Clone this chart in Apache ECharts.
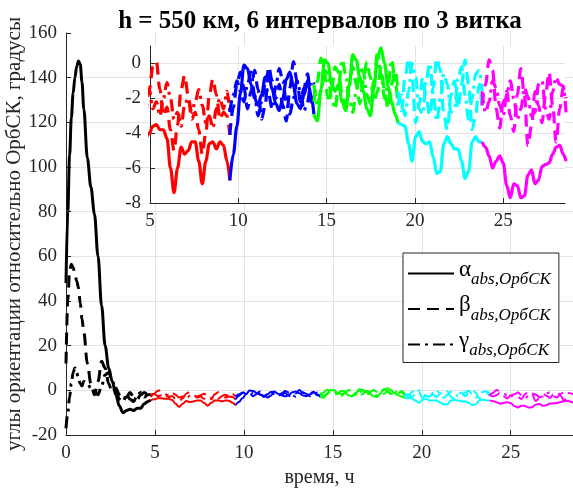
<!DOCTYPE html>
<html>
<head>
<meta charset="utf-8">
<script src="https://cdn.jsdelivr.net/npm/echarts@6/dist/echarts.min.js"></script>
<style>
  html, body { margin: 0; padding: 0; background: #fff; }
  #chart { width: 573px; height: 492px; }
</style>
</head>
<body>
<div id="chart"></div>
<script>
// Attitude angles relative to the orbital frame (ОрбСК), degrees, vs time in hours.
// First the detumbling transient (black), then 6 control intervals of 3 orbits each.

const transientHours = [0, 0.1, 0.2, 0.3, 0.4, 0.5, 0.6, 0.7, 0.8, 0.9, 1.0, 1.2, 1.4, 1.6, 1.8, 2.0, 2.2, 2.4, 2.6, 2.8, 3.0, 3.2, 3.4, 3.6, 3.8, 4.0, 4.2, 4.4, 4.6, 4.76];
const alphaTransient = [48, 80, 105, 122, 133, 140, 145, 147.5, 146, 138, 126, 104, 91, 79, 60, 38, 20, 10, 4, -2, -7, -10, -9, -8.5, -9, -8, -8, -6, -5, -4.4];
const betaTransient  = [12, 40, 53, 56.5, 55, 52, 49, 46, 39, 32, 26, 12, 3, -2, 4, 13, 10, 3, -1, 1, -2, -4, -3, -1, -3, -4, -2, -1, -2, -3.0];
const gammaTransient = [-17, -10, -3, 3, 8, 10, 8, 5, 3, 2, 4, 3, 1, 0, -2, 2, 7, 8, 4, 0, -4, -5, -2, -4, -5, -2, -1, -3, -2, -1.8];

// Control intervals: start time (h), sample offsets inside an interval (h), line colours
const intervalStarts = [4.76, 9.52, 14.28, 19.04, 23.8];
const intervalOffsets = [0, 0.2, 0.4, 0.6, 0.8, 1.0, 1.2, 1.4, 1.6, 1.8, 2.0, 2.2, 2.4, 2.6, 2.8, 3.0, 3.2, 3.4, 3.6, 3.8, 4.0, 4.2, 4.4, 4.6, 4.76];
const intervalColors = ['#ff0000', '#0000ff', '#00ff00', '#00ffff', '#ff00ff'];

const alphaInterval1 = [-4.4, -4.0, -3.6, -3.5, -3.8, -3.8, -4.3, -6.0, -7.4, -6.0, -4.8, -5.2, -5.0, -4.5, -4.5, -5.6, -6.9, -5.6, -4.6, -4.5, -4.9, -4.5, -4.7, -5.6, -6.7];
const betaInterval1  = [-3.0, -1.5, -0.2, 0.1, -1.5, -3.0, -2.5, -3.8, -5.0, -3.5, -1.5, -0.7, -1.8, -3.2, -2.8, -3.8, -5.2, -4.0, -1.8, -0.9, -1.8, -3.2, -2.8, -3.0, -4.1];
const gammaInterval1 = [-1.8, -1.5, -2.6, -2.2, -3.0, -2.0, -1.1, -2.0, -3.2, -2.8, -3.6, -2.4, -2.0, -2.8, -2.2, -1.5, -2.4, -3.4, -3.0, -3.7, -2.6, -2.0, -2.6, -1.6, -2.8];

const alphaInterval2 = [-6.7, -5.2, -3.6, -1.7, -0.1, -0.3, -1.2, -2.0, -2.4, -1.8, -0.8, -0.6, -1.5, -2.3, -2.7, -2.0, -0.9, -0.5, -1.3, -2.3, -2.6, -1.8, -1.0, -1.8, -2.9];
const betaInterval2  = [-4.1, -2.5, -1.2, -0.5, -1.4, -2.6, -1.6, -0.4, -1.5, -3.2, -2.4, -0.2, -1.0, -2.0, -1.2, -2.4, -3.3, -1.4, 0.1, -1.0, -2.2, -1.4, -0.6, -2.2, -2.2];
const gammaInterval2 = [-2.8, -1.8, -1.0, -1.6, -2.2, -1.2, -0.5, -1.8, -3.0, -2.2, -1.2, -1.8, -2.6, -1.3, -0.3, -1.0, -2.2, -2.9, -2.0, -1.0, -1.6, -2.7, -2.2, -1.0, -1.2];

const alphaInterval3 = [-2.9, -3.3, -1.5, 0.2, 0.0, -1.2, -1.6, -1.2, -2.2, -2.7, -1.3, 0.5, 0.2, -0.8, -1.6, -2.6, -3.0, -1.4, 0.3, 0.9, 0.0, -1.3, -2.2, -2.9, -3.4];
const betaInterval3  = [-2.2, -1.0, 0.3, -0.6, -2.0, -1.5, -0.2, -0.5, -1.8, -2.4, -1.2, -0.2, -1.2, -2.3, -1.0, 0.1, -0.8, -2.2, -1.6, -0.3, -1.5, -2.6, -1.2, -0.4, -1.6];
const gammaInterval3 = [-1.2, -2.4, -1.6, -0.4, -0.6, -2.0, -2.6, -1.2, 0.2, -0.6, -2.0, -2.8, -1.6, -0.2, -0.5, -1.8, -2.3, -1.0, 0.6, -0.6, -2.0, -1.2, 0.2, -1.0, -2.4];

const alphaInterval4 = [-3.4, -3.5, -3.6, -4.6, -5.6, -4.2, -3.9, -4.5, -4.6, -4.5, -5.4, -6.3, -6.2, -4.6, -4.2, -4.6, -4.9, -4.9, -5.6, -6.6, -6.2, -4.5, -4.2, -4.5, -4.5];
const betaInterval4  = [-1.6, -2.7, -0.8, 0.3, -0.8, -3.4, -2.4, -0.8, -2.0, -3.0, -1.4, 0.3, -0.4, -3.0, -3.8, -1.8, -1.0, -2.6, -1.2, 0.2, -1.2, -3.8, -3.0, -1.2, -2.4];
const gammaInterval4 = [-2.4, -1.8, -3.0, -1.6, 0.0, -0.8, -2.6, -2.9, -1.0, 0.0, -1.8, -3.3, -2.0, -0.6, -1.2, -2.8, -2.6, -0.9, -0.2, -1.8, -3.2, -2.0, -0.6, -0.4, -1.6];

const alphaInterval5 = [-4.5, -4.8, -5.3, -6.0, -5.6, -5.3, -5.7, -7.0, -7.7, -6.9, -7.0, -7.7, -7.6, -6.4, -6.1, -6.9, -6.7, -5.9, -5.8, -5.7, -5.2, -4.8, -4.7, -5.2, -5.6];
const betaInterval5  = [-2.4, -1.2, 0.2, -0.4, -2.6, -3.7, -2.2, -1.6, -3.0, -3.9, -1.8, -0.3, -1.8, -4.7, -3.6, -1.6, -2.4, -3.4, -1.8, -0.5, -2.4, -4.5, -2.6, -1.4, -2.0];
const gammaInterval5 = [-1.6, -2.8, -2.2, -1.0, -1.4, -2.4, -3.0, -1.8, -1.0, -2.0, -3.2, -2.6, -1.4, -1.9, -3.0, -2.8, -1.2, -1.0, -2.6, -3.2, -1.6, -0.8, -1.2, -1.3, -2.8];

const mainXTicks = [0, 5, 10, 15, 20, 25];
const mainYTicks = [-20, 0, 20, 40, 60, 80, 100, 120, 140, 160];
const insetXTicks = [5, 10, 15, 20, 25];
const insetYTicks = [-8, -6, -4, -2, 0];

const alphaIntervals = [alphaInterval1, alphaInterval2, alphaInterval3, alphaInterval4, alphaInterval5];
const betaIntervals  = [betaInterval1, betaInterval2, betaInterval3, betaInterval4, betaInterval5];
const gammaIntervals = [gammaInterval1, gammaInterval2, gammaInterval3, gammaInterval4, gammaInterval5];

const SERIF = '"Liberation Serif", "Times New Roman", serif';
const AXIS_COLOR = '#262626';
const GRID_COLOR = '#e3e3e3';
const DASH = [12, 7];
const DASH_DOT = [12, 5, 3, 5];

function pairs(xs, ys) { return xs.map((x, i) => [x, ys[i]]); }

function lineSeries(name, data, color, type, width, gridIdx, z) {
  return {
    type: 'line', name: name, data: data,
    xAxisIndex: gridIdx, yAxisIndex: gridIdx,
    showSymbol: false, symbol: 'none', smooth: 0.35, smoothMonotone: 'x',
    lineStyle: { color: color, width: width, type: type, cap: 'butt' },
    itemStyle: { color: color },
    z: z, silent: true, animation: false
  };
}

const series = [];
// Transient (black) in the main axes, these also feed the legend
series.push(lineSeries('alpha', pairs(transientHours, alphaTransient), '#000', 'solid', 3, 0, 3));
series.push(lineSeries('beta', pairs(transientHours, betaTransient), '#000', DASH, 3, 0, 3));
series.push(lineSeries('gamma', pairs(transientHours, gammaTransient), '#000', DASH_DOT, 3, 0, 3));

// Control intervals: drawn both in the main axes and in the zoomed inset
intervalStarts.forEach((t0, k) => {
  const hours = intervalOffsets.map(o => +(t0 + o).toFixed(3));
  const c = intervalColors[k];
  [[alphaIntervals[k], 'solid'], [betaIntervals[k], DASH], [gammaIntervals[k], DASH_DOT]].forEach(([vals, type]) => {
    series.push(lineSeries('main-' + k, pairs(hours, vals), c, type, 2, 0, 2));
    series.push(lineSeries('inset-' + k, pairs(hours, vals), c, type, 3.2, 1, 8));
  });
});

function valueAxis(opts) {
  return Object.assign({
    type: 'value',
    axisLine: { show: true, onZero: false, lineStyle: { color: AXIS_COLOR, width: 1 } },
    axisTick: { show: true, inside: true, length: 5, lineStyle: { color: AXIS_COLOR } },
    axisLabel: { fontFamily: SERIF, fontSize: 19, color: AXIS_COLOR, margin: 9, showMaxLabel: false },
    splitLine: { show: true, showMaxLine: false, lineStyle: { color: GRID_COLOR, width: 1 } }
  }, opts);
}

const legendNames = { alpha: 'α', beta: 'β', gamma: 'γ' };

const option = {
  backgroundColor: '#fff',
  animation: false,
  title: {
    text: 'h = 550 км, 6 интервалов по 3 витка',
    left: 315, top: 4, textAlign: 'center',
    textStyle: { fontFamily: SERIF, fontWeight: 'bold', fontSize: 25, color: '#000' }
  },
  grid: [
    { left: 66, right: 0, top: 33, bottom: 57, containLabel: false, outerBoundsMode: 'none' },
    { left: 150, right: 8, top: 46, bottom: 289, show: true, backgroundColor: '#fff', borderWidth: 0, z: 5, outerBoundsMode: 'none' }
  ],
  xAxis: [
    valueAxis({
      gridIndex: 0, min: mainXTicks[0], max: 28.5, interval: mainXTicks[1] - mainXTicks[0],
      name: 'время, ч', nameLocation: 'middle', nameGap: 30,
      nameTextStyle: { fontFamily: SERIF, fontSize: 20, color: AXIS_COLOR },
      z: 1
    }),
    valueAxis({
      gridIndex: 1, min: insetXTicks[0], max: 28.5, interval: insetXTicks[1] - insetXTicks[0], z: 6
    })
  ],
  yAxis: [
    valueAxis({
      gridIndex: 0, min: mainYTicks[0], max: mainYTicks[mainYTicks.length - 1],
      interval: mainYTicks[1] - mainYTicks[0],
      axisLabel: { fontFamily: SERIF, fontSize: 19, color: AXIS_COLOR, margin: 9 },
      name: 'углы ориентации относительно ОрбСК, градусы', nameLocation: 'middle',
      nameGap: 41, nameMoveOverlap: false,
      nameTextStyle: { fontFamily: SERIF, fontSize: 21, color: AXIS_COLOR },
      z: 1
    }),
    valueAxis({
      gridIndex: 1, min: insetYTicks[0], max: 1, interval: insetYTicks[1] - insetYTicks[0], z: 6
    })
  ],
  legend: {
    data: ['alpha', 'beta', 'gamma'],
    orient: 'vertical', left: 403, top: 253,
    padding: [5, 8, 3, 4], itemGap: 5,
    itemWidth: 46, itemHeight: 30,
    itemStyle: { opacity: 0 },
    backgroundColor: '#fff', borderColor: AXIS_COLOR, borderWidth: 1, borderRadius: 0,
    z: 20,
    formatter: name => '{g|' + legendNames[name] + '}{s|abs,ОрбСК}',
    textStyle: {
      color: '#000',
      rich: {
        g: { fontFamily: SERIF, fontSize: 23, color: '#000', padding: [0, 0, 8, 0] },
        s: { fontFamily: SERIF, fontSize: 17, fontStyle: 'italic', color: '#000', padding: [13, 0, 0, 0] }
      }
    }
  },
  series: series
};

const chart = echarts.init(document.getElementById('chart'), null, { renderer: 'canvas' });
chart.setOption(option);
</script>
</body>
</html>
